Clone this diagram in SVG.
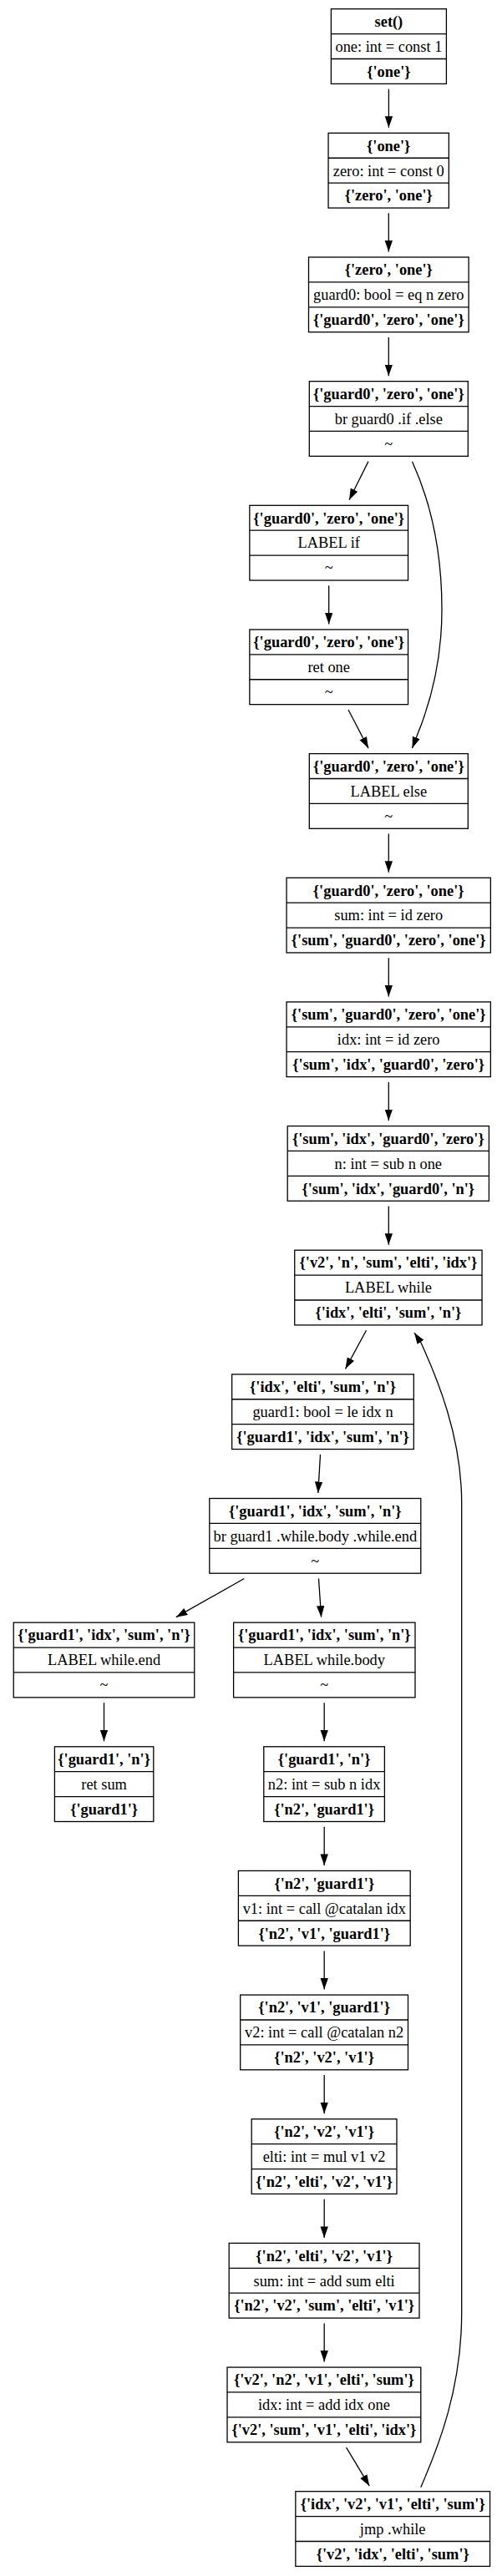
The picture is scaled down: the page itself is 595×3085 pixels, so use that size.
<svg xmlns="http://www.w3.org/2000/svg" width="595" height="3085" viewBox="0 0 595 3085">
<defs>
<style>
.box{fill:#fff;stroke:#000;stroke-width:1.3}
.dv{stroke:#000;stroke-width:1.3}
text{font-family:"Liberation Serif","Times New Roman",serif;font-size:18.4px;text-anchor:middle;fill:#000}
.b{font-weight:bold}
.e{fill:none;stroke:#000;stroke-width:1.3;marker-end:url(#ah)}
</style>
<marker id="ah" markerUnits="userSpaceOnUse" viewBox="0 0 15 11" markerWidth="15" markerHeight="11" refX="13.5" refY="4.7" orient="auto"><path d="M0,0 L13.5,4.7 L0,9.4 z" fill="#000"/></marker>
</defs>
<rect width="595" height="3085" fill="#fff"/>

<g id="edges">
<path class="e" d="M465.4,106.7 L465.4,152.85"/>
<path class="e" d="M465.3,255.35 L465.3,301.5"/>
<path class="e" d="M465.3,404 L465.3,450.15"/>
<path class="e" d="M441,552.65 L418,598.8"/>
<path class="e" d="M493.5,552.65 C515,600 529,660 529,730 C529,800 512,850 499,881.5 L493.5,896.1"/>
<path class="e" d="M393.7,701.3 L393.7,747.45"/>
<path class="e" d="M417,849.95 L441,896.1"/>
<path class="e" d="M465.3,998.6 L465.3,1044.75"/>
<path class="e" d="M465.3,1147.25 L465.3,1193.4"/>
<path class="e" d="M465.3,1295.9 L465.3,1342.05"/>
<path class="e" d="M465.3,1444.55 L465.3,1490.7"/>
<path class="e" d="M438.5,1593.2 L413.5,1639.35"/>
<path class="e" d="M383.5,1741.85 L380.8,1788"/>
<path class="e" d="M292.3,1890.5 L210.8,1936.65"/>
<path class="e" d="M381.5,1890.5 L384.6,1936.65"/>
<path class="e" d="M124.5,2039.15 L124.5,2085.3"/>
<path class="e" d="M388.2,2039.15 L388.2,2085.3"/>
<path class="e" d="M388.2,2187.8 L388.2,2233.95"/>
<path class="e" d="M388.2,2336.45 L388.2,2382.6"/>
<path class="e" d="M388.2,2485.1 L388.2,2531.25"/>
<path class="e" d="M388.2,2633.75 L388.2,2679.9"/>
<path class="e" d="M388.2,2782.4 L388.2,2828.55"/>
<path class="e" d="M414.6,2931.05 L442.3,2977.2"/>
<path class="e" d="M503.8,2978.7 C525,2930 552.7,2860 552.7,2770 L552.7,1800 C552.7,1720 523,1650 504,1608 L496,1596"/>
</g>

<g id="n1" transform="translate(465.4,10.7)"><rect class="box" x="-69" y="0" width="138" height="89.7"/><line class="dv" x1="-69" y1="29.9" x2="69" y2="29.9"/><line class="dv" x1="-69" y1="59.8" x2="69" y2="59.8"/><text class="b" y="21.3">set()</text><text y="51.2">one: int = const 1</text><text class="b" y="81.1">{'one'}</text></g>

<g id="n2" transform="translate(465.2,159.35)"><rect class="box" x="-72.15" y="0" width="144.3" height="89.7"/><line class="dv" x1="-72.15" y1="29.9" x2="72.15" y2="29.9"/><line class="dv" x1="-72.15" y1="59.8" x2="72.15" y2="59.8"/><text class="b" y="21.3">{'one'}</text><text y="51.2">zero: int = const 0</text><text class="b" y="81.1">{'zero', 'one'}</text></g>

<g id="n3" transform="translate(465.3,308)"><rect class="box" x="-95.8" y="0" width="191.6" height="89.7"/><line class="dv" x1="-95.8" y1="29.9" x2="95.8" y2="29.9"/><line class="dv" x1="-95.8" y1="59.8" x2="95.8" y2="59.8"/><text class="b" y="21.3">{'zero', 'one'}</text><text y="51.2">guard0: bool = eq n zero</text><text class="b" y="81.1">{'guard0', 'zero', 'one'}</text></g>

<g id="n4" transform="translate(465.3,456.65)"><rect class="box" x="-95" y="0" width="190" height="89.7"/><line class="dv" x1="-95" y1="29.9" x2="95" y2="29.9"/><line class="dv" x1="-95" y1="59.8" x2="95" y2="59.8"/><text class="b" y="21.3">{'guard0', 'zero', 'one'}</text><text y="51.2">br guard0 .if .else</text><text y="81.1">~</text></g>

<g id="n5" transform="translate(393.7,605.3)"><rect class="box" x="-94.85" y="0" width="189.7" height="89.7"/><line class="dv" x1="-94.85" y1="29.9" x2="94.85" y2="29.9"/><line class="dv" x1="-94.85" y1="59.8" x2="94.85" y2="59.8"/><text class="b" y="21.3">{'guard0', 'zero', 'one'}</text><text y="51.2">LABEL if</text><text y="81.1">~</text></g>

<g id="n6" transform="translate(393.7,753.95)"><rect class="box" x="-94.85" y="0" width="189.7" height="89.7"/><line class="dv" x1="-94.85" y1="29.9" x2="94.85" y2="29.9"/><line class="dv" x1="-94.85" y1="59.8" x2="94.85" y2="59.8"/><text class="b" y="21.3">{'guard0', 'zero', 'one'}</text><text y="51.2">ret one</text><text y="81.1">~</text></g>

<g id="n7" transform="translate(465.3,902.6)"><rect class="box" x="-95" y="0" width="190" height="89.7"/><line class="dv" x1="-95" y1="29.9" x2="95" y2="29.9"/><line class="dv" x1="-95" y1="59.8" x2="95" y2="59.8"/><text class="b" y="21.3">{'guard0', 'zero', 'one'}</text><text y="51.2">LABEL else</text><text y="81.1">~</text></g>

<g id="n8" transform="translate(465.2,1051.25)"><rect class="box" x="-122.15" y="0" width="244.3" height="89.7"/><line class="dv" x1="-122.15" y1="29.9" x2="122.15" y2="29.9"/><line class="dv" x1="-122.15" y1="59.8" x2="122.15" y2="59.8"/><text class="b" y="21.3">{'guard0', 'zero', 'one'}</text><text y="51.2">sum: int = id zero</text><text class="b" y="81.1">{'sum', 'guard0', 'zero', 'one'}</text></g>

<g id="n9" transform="translate(465.2,1199.9)"><rect class="box" x="-122.15" y="0" width="244.3" height="89.7"/><line class="dv" x1="-122.15" y1="29.9" x2="122.15" y2="29.9"/><line class="dv" x1="-122.15" y1="59.8" x2="122.15" y2="59.8"/><text class="b" y="21.3">{'sum', 'guard0', 'zero', 'one'}</text><text y="51.2">idx: int = id zero</text><text class="b" y="81.1">{'sum', 'idx', 'guard0', 'zero'}</text></g>

<g id="n10" transform="translate(464.8,1348.55)"><rect class="box" x="-120.6" y="0" width="241.2" height="89.7"/><line class="dv" x1="-120.6" y1="29.9" x2="120.6" y2="29.9"/><line class="dv" x1="-120.6" y1="59.8" x2="120.6" y2="59.8"/><text class="b" y="21.3">{'sum', 'idx', 'guard0', 'zero'}</text><text y="51.2">n: int = sub n one</text><text class="b" y="81.1">{'sum', 'idx', 'guard0', 'n'}</text></g>

<g id="n11" transform="translate(464.9,1497.2)"><rect class="box" x="-112.15" y="0" width="224.3" height="89.7"/><line class="dv" x1="-112.15" y1="29.9" x2="112.15" y2="29.9"/><line class="dv" x1="-112.15" y1="59.8" x2="112.15" y2="59.8"/><text class="b" y="21.3">{'v2', 'n', 'sum', 'elti', 'idx'}</text><text y="51.2">LABEL while</text><text class="b" y="81.1">{'idx', 'elti', 'sum', 'n'}</text></g>

<g id="n12" transform="translate(386.5,1645.85)"><rect class="box" x="-108.85" y="0" width="217.7" height="89.7"/><line class="dv" x1="-108.85" y1="29.9" x2="108.85" y2="29.9"/><line class="dv" x1="-108.85" y1="59.8" x2="108.85" y2="59.8"/><text class="b" y="21.3">{'idx', 'elti', 'sum', 'n'}</text><text y="51.2">guard1: bool = le idx n</text><text class="b" y="81.1">{'guard1', 'idx', 'sum', 'n'}</text></g>

<g id="n13" transform="translate(377.3,1794.5)"><rect class="box" x="-126.5" y="0" width="253" height="89.7"/><line class="dv" x1="-126.5" y1="29.9" x2="126.5" y2="29.9"/><line class="dv" x1="-126.5" y1="59.8" x2="126.5" y2="59.8"/><text class="b" y="21.3">{'guard1', 'idx', 'sum', 'n'}</text><text y="51.2">br guard1 .while.body .while.end</text><text y="81.1">~</text></g>

<g id="n14" transform="translate(124.5,1943.15)"><rect class="box" x="-108.25" y="0" width="216.5" height="89.7"/><line class="dv" x1="-108.25" y1="29.9" x2="108.25" y2="29.9"/><line class="dv" x1="-108.25" y1="59.8" x2="108.25" y2="59.8"/><text class="b" y="21.3">{'guard1', 'idx', 'sum', 'n'}</text><text y="51.2">LABEL while.end</text><text y="81.1">~</text></g>

<g id="n15" transform="translate(388.3,1943.15)"><rect class="box" x="-108.7" y="0" width="217.4" height="89.7"/><line class="dv" x1="-108.7" y1="29.9" x2="108.7" y2="29.9"/><line class="dv" x1="-108.7" y1="59.8" x2="108.7" y2="59.8"/><text class="b" y="21.3">{'guard1', 'idx', 'sum', 'n'}</text><text y="51.2">LABEL while.body</text><text y="81.1">~</text></g>

<g id="n16" transform="translate(124.6,2091.8)"><rect class="box" x="-59.2" y="0" width="118.4" height="89.7"/><line class="dv" x1="-59.2" y1="29.9" x2="59.2" y2="29.9"/><line class="dv" x1="-59.2" y1="59.8" x2="59.2" y2="59.8"/><text class="b" y="21.3">{'guard1', 'n'}</text><text y="51.2">ret sum</text><text class="b" y="81.1">{'guard1'}</text></g>

<g id="n17" transform="translate(388.1,2091.8)"><rect class="box" x="-72.3" y="0" width="144.6" height="89.7"/><line class="dv" x1="-72.3" y1="29.9" x2="72.3" y2="29.9"/><line class="dv" x1="-72.3" y1="59.8" x2="72.3" y2="59.8"/><text class="b" y="21.3">{'guard1', 'n'}</text><text y="51.2">n2: int = sub n idx</text><text class="b" y="81.1">{'n2', 'guard1'}</text></g>

<g id="n18" transform="translate(388.3,2240.45)"><rect class="box" x="-102.9" y="0" width="205.8" height="89.7"/><line class="dv" x1="-102.9" y1="29.9" x2="102.9" y2="29.9"/><line class="dv" x1="-102.9" y1="59.8" x2="102.9" y2="59.8"/><text class="b" y="21.3">{'n2', 'guard1'}</text><text y="51.2">v1: int = call @catalan idx</text><text class="b" y="81.1">{'n2', 'v1', 'guard1'}</text></g>

<g id="n19" transform="translate(388.1,2389.1)"><rect class="box" x="-100.4" y="0" width="200.8" height="89.7"/><line class="dv" x1="-100.4" y1="29.9" x2="100.4" y2="29.9"/><line class="dv" x1="-100.4" y1="59.8" x2="100.4" y2="59.8"/><text class="b" y="21.3">{'n2', 'v1', 'guard1'}</text><text y="51.2">v2: int = call @catalan n2</text><text class="b" y="81.1">{'n2', 'v2', 'v1'}</text></g>

<g id="n20" transform="translate(388.1,2537.75)"><rect class="box" x="-86.9" y="0" width="173.8" height="89.7"/><line class="dv" x1="-86.9" y1="29.9" x2="86.9" y2="29.9"/><line class="dv" x1="-86.9" y1="59.8" x2="86.9" y2="59.8"/><text class="b" y="21.3">{'n2', 'v2', 'v1'}</text><text y="51.2">elti: int = mul v1 v2</text><text class="b" y="81.1">{'n2', 'elti', 'v2', 'v1'}</text></g>

<g id="n21" transform="translate(388.1,2686.4)"><rect class="box" x="-113.9" y="0" width="227.8" height="89.7"/><line class="dv" x1="-113.9" y1="29.9" x2="113.9" y2="29.9"/><line class="dv" x1="-113.9" y1="59.8" x2="113.9" y2="59.8"/><text class="b" y="21.3">{'n2', 'elti', 'v2', 'v1'}</text><text y="51.2">sum: int = add sum elti</text><text class="b" y="81.1">{'n2', 'v2', 'sum', 'elti', 'v1'}</text></g>

<g id="n22" transform="translate(387.9,2835.05)"><rect class="box" x="-115.9" y="0" width="231.8" height="89.7"/><line class="dv" x1="-115.9" y1="29.9" x2="115.9" y2="29.9"/><line class="dv" x1="-115.9" y1="59.8" x2="115.9" y2="59.8"/><text class="b" y="21.3">{'v2', 'n2', 'v1', 'elti', 'sum'}</text><text y="51.2">idx: int = add idx one</text><text class="b" y="81.1">{'v2', 'sum', 'v1', 'elti', 'idx'}</text></g>

<g id="n23" transform="translate(470.2,2983.7)"><rect class="box" x="-116.35" y="0" width="232.7" height="89.7"/><line class="dv" x1="-116.35" y1="29.9" x2="116.35" y2="29.9"/><line class="dv" x1="-116.35" y1="59.8" x2="116.35" y2="59.8"/><text class="b" y="21.3">{'idx', 'v2', 'v1', 'elti', 'sum'}</text><text y="51.2">jmp .while</text><text class="b" y="81.1">{'v2', 'idx', 'elti', 'sum'}</text></g>
</svg>
